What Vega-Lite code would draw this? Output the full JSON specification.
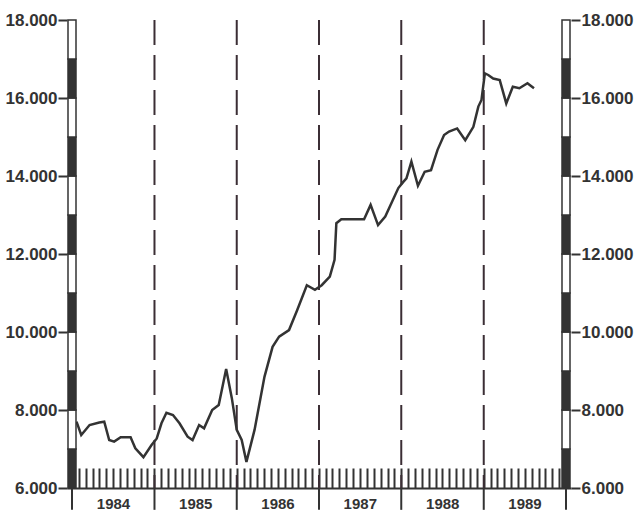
{
  "$schema": "https://vega.github.io/schema/vega-lite/v6.json",
  "width": 504,
  "height": 468,
  "autosize": {"type": "none"},
  "padding": {"left": 67, "top": 20, "right": 65, "bottom": 22},
  "background": "white",
  "config": {
    "view": {"stroke": null},
    "axis": {"labelFont": "Liberation Sans", "labelFontWeight": "bold", "labelColor": "#333", "tickColor": "#333", "domainColor": "#333", "grid": false}
  },
  "datasets": {
    "series": [
      {"date": "1984-01-21", "value": 7700},
      {"date": "1984-02-11", "value": 7360},
      {"date": "1984-03-19", "value": 7615},
      {"date": "1984-05-01", "value": 7680},
      {"date": "1984-05-23", "value": 7700},
      {"date": "1984-06-14", "value": 7230},
      {"date": "1984-07-06", "value": 7190},
      {"date": "1984-08-04", "value": 7300},
      {"date": "1984-09-17", "value": 7300},
      {"date": "1984-10-08", "value": 7020},
      {"date": "1984-11-13", "value": 6790},
      {"date": "1984-12-19", "value": 7100},
      {"date": "1985-01-11", "value": 7270},
      {"date": "1985-02-01", "value": 7660},
      {"date": "1985-02-23", "value": 7930},
      {"date": "1985-03-24", "value": 7870},
      {"date": "1985-04-22", "value": 7660},
      {"date": "1985-05-28", "value": 7315},
      {"date": "1985-06-19", "value": 7230},
      {"date": "1985-07-18", "value": 7615},
      {"date": "1985-08-09", "value": 7530},
      {"date": "1985-09-14", "value": 8000},
      {"date": "1985-10-13", "value": 8130},
      {"date": "1985-11-15", "value": 9050},
      {"date": "1985-12-10", "value": 8310},
      {"date": "1986-01-01", "value": 7490},
      {"date": "1986-01-23", "value": 7230},
      {"date": "1986-02-13", "value": 6670},
      {"date": "1986-03-21", "value": 7490},
      {"date": "1986-05-04", "value": 8850},
      {"date": "1986-06-09", "value": 9620},
      {"date": "1986-07-08", "value": 9880},
      {"date": "1986-08-21", "value": 10050},
      {"date": "1986-09-26", "value": 10560},
      {"date": "1986-11-08", "value": 11200},
      {"date": "1986-12-14", "value": 11080},
      {"date": "1987-01-13", "value": 11200},
      {"date": "1987-02-18", "value": 11420},
      {"date": "1987-03-11", "value": 11850},
      {"date": "1987-03-19", "value": 12790},
      {"date": "1987-04-10", "value": 12890},
      {"date": "1987-07-20", "value": 12890},
      {"date": "1987-08-18", "value": 13260},
      {"date": "1987-09-20", "value": 12740},
      {"date": "1987-10-22", "value": 12960},
      {"date": "1987-12-19", "value": 13690},
      {"date": "1988-01-10", "value": 13850},
      {"date": "1988-01-24", "value": 13940},
      {"date": "1988-02-15", "value": 14370},
      {"date": "1988-03-15", "value": 13750},
      {"date": "1988-04-14", "value": 14110},
      {"date": "1988-05-12", "value": 14150},
      {"date": "1988-06-10", "value": 14670},
      {"date": "1988-07-09", "value": 15050},
      {"date": "1988-07-31", "value": 15140},
      {"date": "1988-09-05", "value": 15220},
      {"date": "1988-10-11", "value": 14920},
      {"date": "1988-11-16", "value": 15260},
      {"date": "1988-12-08", "value": 15780},
      {"date": "1988-12-22", "value": 15950},
      {"date": "1989-01-06", "value": 16630},
      {"date": "1989-01-21", "value": 16590},
      {"date": "1989-02-12", "value": 16500},
      {"date": "1989-03-13", "value": 16460},
      {"date": "1989-04-11", "value": 15860},
      {"date": "1989-05-10", "value": 16290},
      {"date": "1989-06-08", "value": 16250},
      {"date": "1989-07-14", "value": 16380},
      {"date": "1989-08-12", "value": 16250}
    ],
    "bounds": [
      {"d": "1984-01-01"}, {"d": "1985-01-01"}, {"d": "1986-01-01"}, {"d": "1987-01-01"},
      {"d": "1988-01-01"}, {"d": "1989-01-01"}, {"d": "1990-01-01"}
    ],
    "inner": [
      {"d": "1985-01-01"}, {"d": "1986-01-01"}, {"d": "1987-01-01"}, {"d": "1988-01-01"}, {"d": "1989-01-01"}
    ],
    "segments": [
      {"lo": 6000, "hi": 7000, "shade": "dark"},
      {"lo": 7000, "hi": 8000, "shade": "light"},
      {"lo": 8000, "hi": 9000, "shade": "dark"},
      {"lo": 9000, "hi": 10000, "shade": "light"},
      {"lo": 10000, "hi": 11000, "shade": "dark"},
      {"lo": 11000, "hi": 12000, "shade": "light"},
      {"lo": 12000, "hi": 13000, "shade": "dark"},
      {"lo": 13000, "hi": 14000, "shade": "light"},
      {"lo": 14000, "hi": 15000, "shade": "dark"},
      {"lo": 15000, "hi": 16000, "shade": "light"},
      {"lo": 16000, "hi": 17000, "shade": "dark"},
      {"lo": 17000, "hi": 18000, "shade": "light"}
    ]
  },
  "resolve": {"axis": {"y": "independent"}},
  "layer": [
    {
      "data": {"name": "inner"},
      "mark": {"type": "rule", "strokeDash": [25, 10], "strokeWidth": 2, "color": "#3b2e35"},
      "encoding": {
        "x": {"field": "d", "type": "temporal", "title": null,
              "scale": {"type": "utc", "domain": [{"year": 1984, "month": 1, "date": 1, "utc": true}, {"year": 1990, "month": 1, "date": 1, "utc": true}]},
              "axis": {"tickCount": {"interval": "month", "step": 1}, "tickSize": -20, "tickWidth": 2, "domainWidth": 2,
                       "labelExpr": "utcmonth(datum.value) == 6 ? '' + utcyear(datum.value) : ''",
                       "labelFontSize": 15, "labelPadding": 28, "labelBaseline": "top", "labelOverlap": false, "labelBound": false, "labelFlush": false}},
        "y": {"datum": 18000, "type": "quantitative", "axis": null, "scale": {"domain": [6000, 18000], "nice": false, "zero": false}},
        "y2": {"datum": 6000}
      }
    },
    {
      "data": {"name": "bounds"},
      "mark": {"type": "rule", "strokeWidth": 2, "color": "#333"},
      "encoding": {
        "x": {"field": "d", "type": "temporal", "title": null},
        "y": {"datum": 6000, "type": "quantitative", "axis": null},
        "y2": {"datum": 5440}
      }
    },
    {
      "data": {"name": "series"},
      "mark": {"type": "line", "color": "#333", "strokeWidth": 2.5},
      "encoding": {
        "x": {"field": "date", "type": "temporal", "title": null},
        "y": {"field": "value", "type": "quantitative", "title": null,
              "axis": {"orient": "left", "values": [6000, 8000, 10000, 12000, 14000, 16000, 18000], "domain": false,
                       "labelExpr": "replace(format(datum.value, ',d'), ',', '.')",
                       "tickSize": 9, "tickWidth": 2, "labelFontSize": 17, "labelPadding": 1}}
      }
    },
    {
      "data": {"name": "segments"},
      "mark": {"type": "bar", "width": 8, "stroke": "#333", "strokeWidth": 1.5},
      "encoding": {
        "x": {"datum": {"year": 1984, "month": 1, "date": 1, "utc": true}, "type": "temporal", "title": null},
        "y": {"field": "lo", "type": "quantitative", "axis": null},
        "y2": {"field": "hi"},
        "color": {"field": "shade", "type": "nominal", "legend": null, "scale": {"domain": ["dark", "light"], "range": ["#333", "#ffffff"]}}
      }
    },
    {
      "data": {"name": "segments"},
      "mark": {"type": "bar", "width": 8, "stroke": "#333", "strokeWidth": 1.5},
      "encoding": {
        "x": {"datum": {"year": 1990, "month": 1, "date": 1, "utc": true}, "type": "temporal", "title": null},
        "y": {"field": "lo", "type": "quantitative", "title": null,
              "axis": {"orient": "right", "values": [6000, 8000, 10000, 12000, 14000, 16000, 18000], "domain": false,
                       "labelExpr": "replace(format(datum.value, ',d'), ',', '.')",
                       "tickSize": 9, "tickWidth": 2, "labelFontSize": 17, "labelPadding": 1}},
        "y2": {"field": "hi"},
        "color": {"field": "shade", "type": "nominal", "legend": null, "scale": {"domain": ["dark", "light"], "range": ["#333", "#ffffff"]}}
      }
    }
  ]
}
